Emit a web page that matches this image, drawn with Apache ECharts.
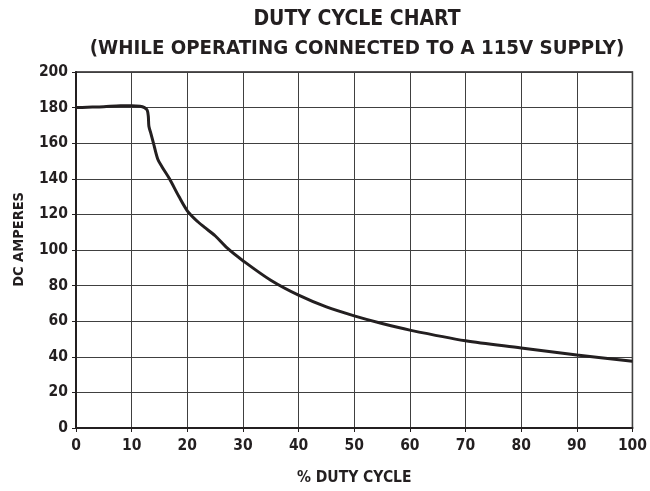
<!DOCTYPE html>
<html>
<head>
<meta charset="utf-8">
<script src="https://cdn.jsdelivr.net/npm/echarts@6/dist/echarts.min.js"></script>
<style>html,body{margin:0;padding:0;background:#fff}#c{width:650px;height:491px}</style>
</head>
<body>
<div id="c"></div>
<script>
const titleLine1 = "DUTY CYCLE CHART";
const titleLine2 = "(WHILE OPERATING CONNECTED TO A 115V SUPPLY)";
const xName = "% DUTY CYCLE";
const yName = "DC AMPERES";
const dutyCycle = [0, 2, 5, 8, 10, 11.5, 12.3, 12.8, 13.0, 13.1, 13.5, 14.0, 14.7, 15.5, 16.8, 18.5, 20, 21.5, 23, 25, 27.2, 30, 35, 40, 45, 50, 55, 60, 70, 80, 90, 100];
const amperes   = [180, 180.2, 180.5, 181, 181, 180.8, 180, 178.5, 175, 169.5, 165, 159, 151, 146.5, 140, 130, 122, 117, 113, 108, 101, 94, 83, 74.6, 68, 63, 58.7, 55, 49, 45, 41, 37.5];

const font = '"Liberation Sans Narrow", "DejaVu Sans Condensed", sans-serif';
const ink = '#231f20';
const chart = echarts.init(document.getElementById('c'), null, {renderer: 'canvas'});
chart.setOption({
  animation: false,
  title: {
    text: '{a|' + titleLine1 + '}\n{b|' + titleLine2 + '}',
    left: 352, textAlign: 'center', top: 0,
    textStyle: {
      rich: {
        a: {fontFamily: font, fontWeight: 'bold', fontSize: 21, lineHeight: 29, color: ink, align: 'center'},
        b: {fontFamily: font, fontWeight: 'bold', fontSize: 20.3, lineHeight: 29, color: ink, align: 'center'}
      }
    }
  },
  graphic: [{
    type: 'text', left: 12, top: 192,
    style: {text: yName, fontFamily: font, fontWeight: 'bold', fontSize: 14.5, fill: ink},
    rotation: Math.PI / 2
  }],
  grid: {left: 76, right: 15, top: 72, bottom: 60, show: true, borderColor: ink, borderWidth: 1.5},
  xAxis: {
    type: 'value', min: 0, max: 100, interval: 10,
    name: xName, nameLocation: 'middle', nameGap: 42,
    nameTextStyle: {fontFamily: font, fontWeight: 'bold', fontSize: 15.5, color: ink},
    axisLine: {lineStyle: {color: ink, width: 2}},
    axisTick: {show: true, length: 4, lineStyle: {color: ink}},
    axisLabel: {fontFamily: font, fontWeight: 'bold', fontSize: 15.5, color: ink, margin: 10},
    splitLine: {show: true, lineStyle: {color: '#404040', width: 1}}
  },
  yAxis: {
    type: 'value', min: 0, max: 200, interval: 20,
    axisLine: {show: true, lineStyle: {color: ink, width: 2}},
    axisTick: {show: true, length: 4, lineStyle: {color: ink}},
    axisLabel: {fontFamily: font, fontWeight: 'bold', fontSize: 15.5, color: ink, margin: 8},
    splitLine: {show: true, lineStyle: {color: '#404040', width: 1}}
  },
  series: [{
    type: 'line',
    data: dutyCycle.map((x, i) => [x, amperes[i]]),
    smooth: 0.3,
    showSymbol: false,
    lineStyle: {color: ink, width: 3}
  }]
});
</script>
</body>
</html>
